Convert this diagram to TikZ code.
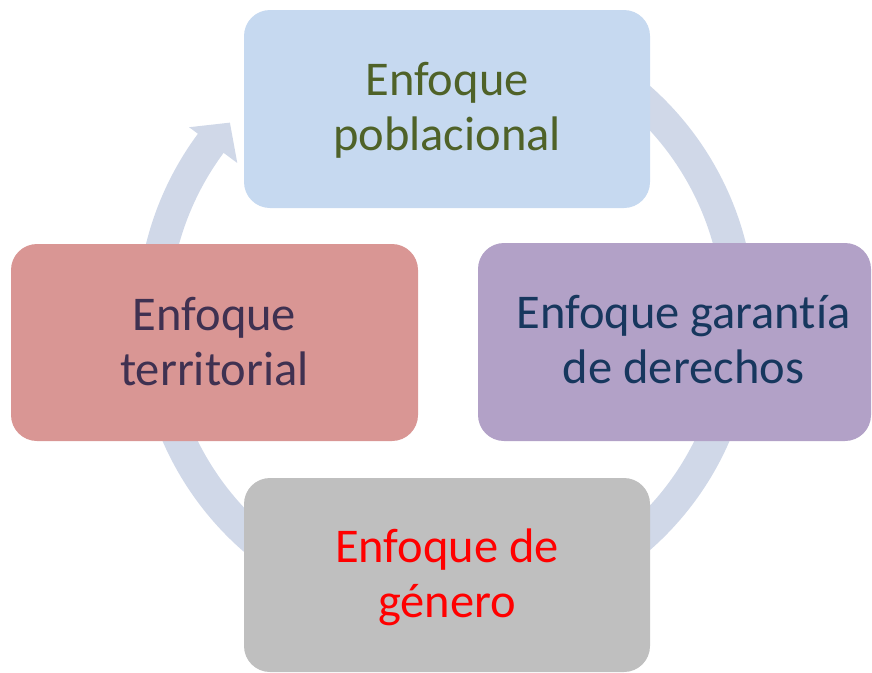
\documentclass[tikz,border=0pt]{standalone}
\usepackage{fontspec}
\setmainfont[Ligatures={NoCommon}]{Carlito}
\usetikzlibrary{calc}
\definecolor{ringc}{HTML}{D0D8E8}
\definecolor{topc}{HTML}{C6D9F0}
\definecolor{leftc}{HTML}{D99694}
\definecolor{rightc}{HTML}{B2A1C7}
\definecolor{botc}{HTML}{BFBFBF}
\definecolor{toptxt}{HTML}{4F6228}
\definecolor{lefttxt}{HTML}{3F3151}
\definecolor{righttxt}{HTML}{17375E}
\definecolor{bottxt}{HTML}{FF0000}
\begin{document}
\begin{tikzpicture}[x=1pt,y=-1pt,
  box/.style={rounded corners=26pt, inner sep=0pt, draw=none},
  txt/.style={anchor=base, align=flush center, text width=420pt, inner sep=0pt,
    font=\fontsize{48.5}{55}\selectfont}]
\useasboundingbox (0,0) rectangle (872,672);
\coordinate (c) at (446,318);
% ring arrow
\draw[ringc, line width=32pt] ($(c)+(-80:293)$) arc[start angle=-80, end angle=217, radius=293];
\coordinate (barbout) at ($(c)+(216.6:320)$);
\coordinate (barbin) at ($(c)+(216.6:260)$);
\coordinate (tip) at ($(c)+(216.6:290)+(306.6:28)$);
\fill[ringc] (barbout) -- (tip) -- (barbin) -- cycle;
% boxes
\node[box, fill=topc, minimum width=406pt, minimum height=198pt] (top) at (447,109) {};
\node[box, fill=leftc, minimum width=407pt, minimum height=197pt] (left) at (214.5,342.5) {};
\node[box, fill=rightc, minimum width=393pt, minimum height=198pt] (right) at (674.5,342) {};
\node[box, fill=botc, minimum width=406pt, minimum height=194pt] (bot) at (447,575) {};
% texts
\node[txt, text=toptxt] (toplab) at ($(top.center)+(0,-14)$) {Enfoque\\poblacional};
\node[txt, text=lefttxt] (leftlab) at ($(left.center)+(0,-12)$) {Enfoque\\territorial};
\node[txt, text=righttxt] (rightlab) at ($(right.center)+(9,-14)$) {Enfoque garantía\\de derechos};
\node[txt, text=bottxt] (botlab) at ($(bot.center)+(0,-13)$) {Enfoque de\\género};
\end{tikzpicture}
\end{document}
